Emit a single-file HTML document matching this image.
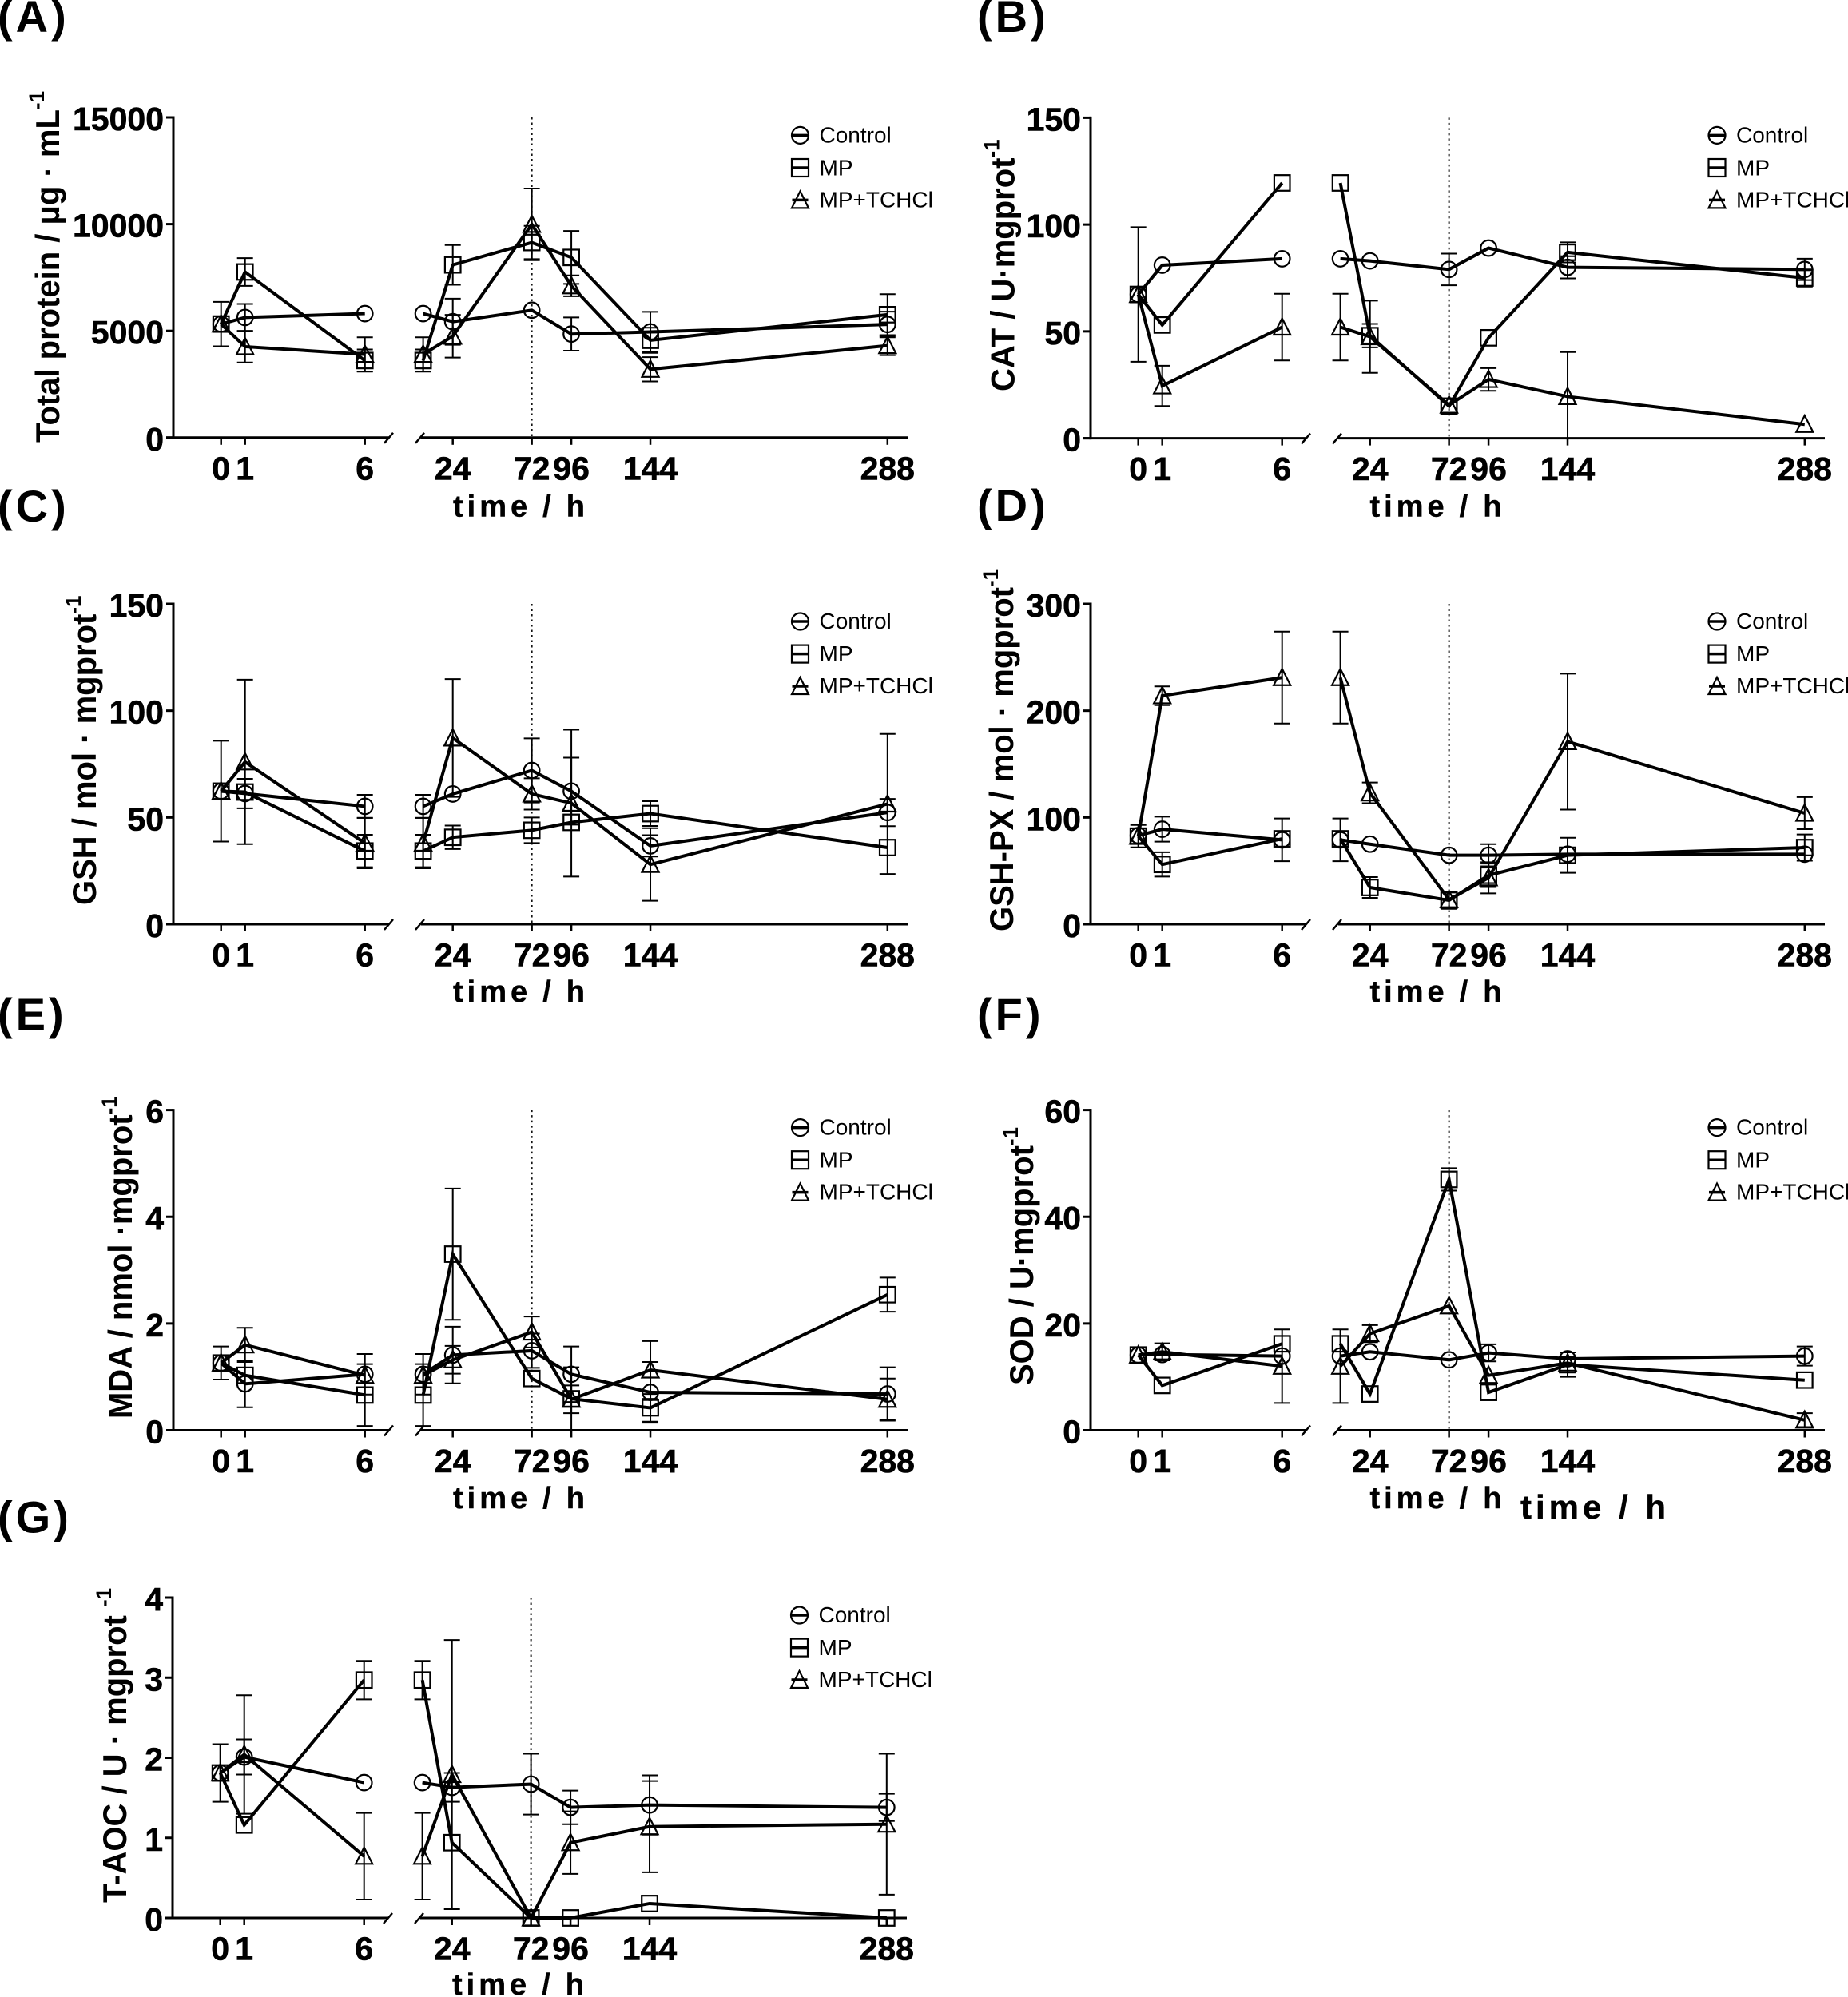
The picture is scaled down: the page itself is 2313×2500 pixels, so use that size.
<!DOCTYPE html>
<html>
<head>
<meta charset="utf-8">
<title>Time-course panels</title>
<style>
html,body{margin:0;padding:0;background:#fff;}
svg{display:block;font-family:"Liberation Sans",sans-serif;}
.pl{font-weight:700;font-size:56px;letter-spacing:4px;fill:#000;}
.yt{font-weight:700;font-size:40px;fill:#000;}
.sup{font-size:26px;}
.xt{font-weight:700;font-size:38px;letter-spacing:5px;word-spacing:-1.5px;text-anchor:middle;fill:#000;stroke:#000;stroke-width:.4;}
.lg{font-size:28px;fill:#000;}
.tick{font-weight:700;font-size:41px;fill:#000;stroke:#000;stroke-width:.6;}
.ls{fill:none;stroke:#000;stroke-width:2.2;}
.ll{stroke:#000;stroke-width:3.5;}
</style>
</head>
<body>
<svg id="figure" xmlns="http://www.w3.org/2000/svg" width="2313" height="2500" viewBox="0 0 2313 2500">
<rect width="2313" height="2500" fill="#fff"/>
<defs>
<g id="lc"><circle cx="0" cy="0" r="10.5" class="ls"/><line x1="-10" x2="10" y1="0" y2="0" class="ll"/></g>
<g id="ls"><rect x="-10.5" y="-11" width="21" height="22" class="ls"/><line x1="-10" x2="10" y1="0" y2="0" class="ll"/></g>
<g id="lt"><path d="M0,-11 L10.5,10 L-10.5,10 Z" class="ls"/><line x1="-10" x2="10" y1="0" y2="0" class="ll"/></g>
</defs>

<text class="pl" x="-3" y="40">(A)</text>
<text class="pl" x="1223" y="40">(B)</text>
<text class="pl" x="-3" y="653">(C)</text>
<text class="pl" x="1223" y="652">(D)</text>
<text class="pl" x="-3" y="1289">(E)</text>
<text class="pl" x="1223" y="1289">(F)</text>
<text class="pl" x="-3" y="1918.5">(G)</text>

<text class="yt" transform="translate(74,554) rotate(-90) scale(1,1.05)">Total protein / μg · mL<tspan class="sup" dy="-18">-1</tspan></text>
<text class="yt" transform="translate(1269.5,490) rotate(-90) scale(1,1.05)">CAT / U·mgprot<tspan class="sup" dy="-18">-1</tspan></text>
<text class="yt" transform="translate(120,1133) rotate(-90) scale(1,1.05)">GSH / mol · mgprot<tspan class="sup" dy="-18">-1</tspan></text>
<text class="yt" transform="translate(1268,1166) rotate(-90) scale(1,1.05)">GSH-PX / mol · mgprot<tspan class="sup" dy="-18">-1</tspan></text>
<text class="yt" transform="translate(165,1776) rotate(-90) scale(1,1.05)">MDA / nmol ·mgprot<tspan class="sup" dy="-18">-1</tspan></text>
<text class="yt" transform="translate(1293,1734) rotate(-90) scale(1,1.05)">SOD / U·mgprot<tspan class="sup" dy="-18">-1</tspan></text>
<text class="yt" transform="translate(158,2382) rotate(-90) scale(1,1.05)">T-AOC / U · mgprot <tspan class="sup" dy="-18">-1</tspan></text>

<text class="xt" x="652" y="646.5">time / h</text>
<text class="xt" x="1799.5" y="646.5">time / h</text>
<text class="xt" x="652" y="1254">time / h</text>
<text class="xt" x="1799.5" y="1254">time / h</text>
<text class="xt" x="652" y="1888">time / h</text>
<text class="xt" x="1799.5" y="1888">time / h</text>
<text class="xt" x="1996.5" y="1901" style="font-size:42px;letter-spacing:5px;word-spacing:0;">time / h</text>
<text class="xt" x="651" y="2497">time / h</text>

<g transform="translate(1001.5,147.4)">
<use href="#lc" y="22"/><text class="lg" x="24" y="31">Control</text>
<use href="#ls" y="62.6"/><text class="lg" x="24" y="72">MP</text>
<use href="#lt" y="103"/><text class="lg" x="24" y="112">MP+TCHCl</text>
</g>
<g transform="translate(2149,147.4)">
<use href="#lc" y="22"/><text class="lg" x="24" y="31">Control</text>
<use href="#ls" y="62.6"/><text class="lg" x="24" y="72">MP</text>
<use href="#lt" y="103"/><text class="lg" x="24" y="112">MP+TCHCl</text>
</g>
<g transform="translate(1001.5,756)">
<use href="#lc" y="22"/><text class="lg" x="24" y="31">Control</text>
<use href="#ls" y="62.6"/><text class="lg" x="24" y="72">MP</text>
<use href="#lt" y="103"/><text class="lg" x="24" y="112">MP+TCHCl</text>
</g>
<g transform="translate(2149,756)">
<use href="#lc" y="22"/><text class="lg" x="24" y="31">Control</text>
<use href="#ls" y="62.6"/><text class="lg" x="24" y="72">MP</text>
<use href="#lt" y="103"/><text class="lg" x="24" y="112">MP+TCHCl</text>
</g>
<g transform="translate(1001.5,1389.6)">
<use href="#lc" y="22"/><text class="lg" x="24" y="31">Control</text>
<use href="#ls" y="62.6"/><text class="lg" x="24" y="72">MP</text>
<use href="#lt" y="103"/><text class="lg" x="24" y="112">MP+TCHCl</text>
</g>
<g transform="translate(2149,1389.6)">
<use href="#lc" y="22"/><text class="lg" x="24" y="31">Control</text>
<use href="#ls" y="62.6"/><text class="lg" x="24" y="72">MP</text>
<use href="#lt" y="103"/><text class="lg" x="24" y="112">MP+TCHCl</text>
</g>
<g transform="translate(1000.5,2000)">
<use href="#lc" y="22"/><text class="lg" x="24" y="31">Control</text>
<use href="#ls" y="62.6"/><text class="lg" x="24" y="72">MP</text>
<use href="#lt" y="103"/><text class="lg" x="24" y="112">MP+TCHCl</text>
</g>
</svg>

<script>
// shared categories
const hours = [0, 1, 6, 24, 72, 96, 144, 288];
const hourLabels = ['0', '1', '6', '24', '72', '96', '144', '288'];

// panel A: total protein
const aTicks = [0, 5000, 10000, 15000];
const aControl = [5320, 5630, 5810, 5430, 5970, 4850, 4950, 5300];
const aControlErr = [0, 630, 0, 1080, 0, 780, 940, 600];
const aMp = [5320, 7760, 3610, 8090, 9140, 8440, 4560, 5760];
const aMpErr = [0, 650, 520, 930, 780, 1240, 590, 960];
const aTc = [5320, 4260, 3900, 4750, 9990, 7110, 3200, 4310];
const aTcErr = [1040, 740, 800, 1000, 1680, 490, 570, 450];

// panel B: CAT
const bTicks = [0, 50, 100, 150];
const bControl = [67.3, 81, 84, 83, 79, 89, 80, 79];
const bControlErr = [31.5, 0, 0, 0, 7.4, 0, 5.2, 5];
const bMp = [67.3, 53, 119.5, 48, 15, 47, 87, 75];
const bMpErr = [0, 0, 0, 5.5, 0, 0, 4.7, 4];
const bTc = [67.3, 24.5, 52, 47.5, 15.5, 27.5, 19.5, 6.5];
const bTcErr = [0, 9.4, 15.6, 16.9, 0, 5.3, 20.8, 0];

// panel C: GSH
const cTicks = [0, 50, 100, 150];
const cControl = [62.3, 61.2, 55.2, 61, 72, 62.3, 36.7, 52.3];
const cControlErr = [0, 6.9, 5.4, 0, 15, 15.7, 5, 6.4];
const cMp = [62.3, 61.9, 34.3, 40.7, 44, 47.7, 51.8, 35.9];
const cMpErr = [0, 0, 7.6, 5.5, 6, 0, 5.8, 0];
const cTc = [62.3, 76, 38, 87.2, 61, 56.7, 28, 56.3];
const cTcErr = [23.6, 38.5, 11.8, 27.6, 7.3, 34.4, 17, 32.8];

// panel D: GSH-PX
const dTicks = [0, 100, 200, 300];
const dControl = [83, 89, 79, 75, 64.6, 64.6, 65.6, 65.6];
const dControlErr = [0, 11.7, 20, 0, 0, 10.4, 0, 0];
const dMp = [82.5, 56, 80, 34.4, 22.4, 45.8, 64.6, 71.8];
const dMpErr = [0, 11.4, 0, 9.7, 8, 11, 16.4, 12.3];
const dTc = [82.5, 214, 231, 123, 23, 43.5, 171, 104];
const dTcErr = [10.5, 8.8, 43, 9.7, 0, 14.6, 63.6, 15];

// panel E: MDA
const eTicks = [0, 2, 4, 6];
const eControl = [1.26, 0.87, 1.05, 1.41, 1.49, 1.05, 0.71, 0.68];
const eControlErr = [0, 0.44, 0.38, 0.53, 0.32, 0.52, 0.57, 0.5];
const eMp = [1.26, 1.03, 0.66, 3.3, 0.97, 0.59, 0.42, 2.54];
const eMpErr = [0, 0, 0.58, 1.23, 0, 0.59, 0.26, 0.32];
const eTc = [1.26, 1.6, 1.03, 1.32, 1.84, 0.58, 1.13, 0.58];
const eTcErr = [0.31, 0.32, 0, 0.26, 0.29, 0.26, 0.54, 0.39];

// panel F: SOD
const fTicks = [0, 20, 40, 60];
const fControl = [14.1, 14.2, 13.9, 14.7, 13.2, 14.5, 13.4, 13.9];
const fControlErr = [0, 0, 0, 0, 0, 1.6, 0, 1.8];
const fMp = [14.1, 8.4, 16.2, 6.8, 47, 7.1, 12.3, 9.4];
const fMpErr = [0, 0, 0, 0, 2.1, 0, 2.3, 0];
const fTc = [14.1, 14.7, 12, 18.1, 23.3, 10.3, 12.6, 1.9];
const fTcErr = [0, 1.6, 6.9, 1.6, 0, 0, 0, 1.3];

// panel G: T-AOC
const gTicks = [0, 1, 2, 3, 4];
const gControl = [1.81, 2.01, 1.69, 1.63, 1.67, 1.38, 1.41, 1.38];
const gControlErr = [0, 0.22, 0, 0.18, 0.38, 0.21, 0.37, 0.17];
const gMp = [1.81, 1.16, 2.97, 0.94, 0, 0, 0.18, 0];
const gMpErr = [0, 0, 0.24, 0, 0, 0, 0, 0];
const gTc = [1.81, 2.04, 0.77, 1.79, 0, 0.94, 1.14, 1.17];
const gTcErr = [0.36, 0.74, 0.54, 1.68, 0, 0.39, 0.57, 0.88];

const svgRoot = document.getElementById('figure');
const NS = 'http://www.w3.org/2000/svg';

function make(parent, tag, props, text) {
  const el = document.createElementNS(NS, tag);
  for (const k in props) el.setAttribute(k, props[k]);
  if (text !== undefined) el.textContent = text;
  parent.appendChild(el);
  return el;
}

function xBefore(t, dx) { return 276.7 + dx + t * 30; }
function xAfter(t, dx) { return 566.7 + dx + (t - 24) * 2.061; }

function drawMarker(parent, kind, x, y, seriesName) {
  let m;
  if (kind === 'circle') {
    m = make(parent, 'circle', {cx: x, cy: y, r: 9.8, fill: 'none', stroke: '#000', 'stroke-width': 2.2});
  } else if (kind === 'square') {
    m = make(parent, 'rect', {x: x - 9.8, y: y - 9.8, width: 19.6, height: 19.6, fill: 'none', stroke: '#000', 'stroke-width': 2.2});
  } else {
    m = make(parent, 'path', {d: 'M' + x + ',' + (y - 11) + ' L' + (x + 10.5) + ',' + (y + 9.5) + ' L' + (x - 10.5) + ',' + (y + 9.5) + ' Z', fill: 'none', stroke: '#000', 'stroke-width': 2.2});
  }
  
  
}

function drawErr(parent, x, yHi, yLo, seriesName) {
  const d = 'M' + x + ',' + yHi + ' V' + yLo + ' M' + (x - 10) + ',' + yHi + ' H' + (x + 10) + ' M' + (x - 10) + ',' + yLo + ' H' + (x + 10);
  const e = make(parent, 'path', {d: d, fill: 'none', stroke: '#000', 'stroke-width': 2});
  
  
}

function drawPanel(id, dx, top, bottom, ticks, series) {
  const g = make(svgRoot, 'g', {});
  
  
  const maxV = ticks[ticks.length - 1];
  const yScale = v => bottom - (v / maxV) * (bottom - top);
  const axisX = 217 + dx;

  // axes
  const yAxis = make(g, 'line', {x1: axisX, x2: axisX, y1: top - 1.5, y2: bottom + 1.5, stroke: '#000', 'stroke-width': 3});
  
  
  const xLeft = make(g, 'line', {x1: 208 + dx, x2: 487 + dx, y1: bottom, y2: bottom, stroke: '#000', 'stroke-width': 3});
  
  
  const xRight = make(g, 'line', {x1: 527 + dx, x2: 1136 + dx, y1: bottom, y2: bottom, stroke: '#000', 'stroke-width': 3});
  
  
  const brk1 = make(g, 'line', {x1: 481 + dx, x2: 492 + dx, y1: bottom + 7, y2: bottom - 6, stroke: '#000', 'stroke-width': 2.5});
  
  
  const brk2 = make(g, 'line', {x1: 520 + dx, x2: 531 + dx, y1: bottom + 7, y2: bottom - 6, stroke: '#000', 'stroke-width': 2.5});
  
  

  // dotted reference at 72 h
  const ref = make(g, 'line', {x1: xAfter(72, dx), x2: xAfter(72, dx), y1: top, y2: bottom, stroke: '#111', 'stroke-width': 2, 'stroke-dasharray': '2.5 4'});
  
  

  // y ticks
  ticks.forEach(v => {
    const y = yScale(v);
    const t = make(g, 'line', {x1: axisX - 9, x2: axisX, y1: y, y2: y, stroke: '#000', 'stroke-width': 3});
    
    
    const l = make(g, 'text', {x: axisX - 12, y: y + 16, 'text-anchor': 'end', class: 'tick'}, String(v));
    
    
  });

  // x ticks
  hours.forEach((h, i) => {
    const x = h <= 6 ? xBefore(h, dx) : xAfter(h, dx);
    const t = make(g, 'line', {x1: x, x2: x, y1: bottom, y2: bottom + 9, stroke: '#000', 'stroke-width': 2.5});
    
    
    const l = make(g, 'text', {x: x, y: bottom + 52.5, 'text-anchor': 'middle', class: 'tick'}, hourLabels[i]);
    
    
  });

  // series
  series.forEach(s => {
    const sg = make(g, 'g', {});
    
    
    const early = [];
    const late = [];
    hours.forEach((h, i) => {
      if (h <= 6) early.push({x: xBefore(h, dx), i: i});
      if (h >= 6) late.push({x: xAfter(h, dx), i: i});
    });
    [early, late].forEach(seg => {
      seg.forEach(p => {
        const v = s.values[p.i];
        const e = s.errs[p.i];
        if (e > 0) drawErr(sg, p.x, yScale(v + e), yScale(Math.max(v - e, 0)), s.name);
      });
      seg.forEach(p => drawMarker(sg, s.kind, p.x, yScale(s.values[p.i]), s.name));
      const pts = seg.map(p => p.x + ',' + yScale(s.values[p.i])).join(' ');
      const line = make(sg, 'polyline', {points: pts, fill: 'none', stroke: '#000', 'stroke-width': 4, 'stroke-linejoin': 'miter'});
      
      
    });
  });
}

function seriesSet(c, cE, m, mE, t, tE) {
  return [
    {name: 'control', kind: 'circle', values: c, errs: cE},
    {name: 'mp', kind: 'square', values: m, errs: mE},
    {name: 'mp-tchcl', kind: 'triangle', values: t, errs: tE}
  ];
}

drawPanel('a', 0, 147, 547.8, aTicks, seriesSet(aControl, aControlErr, aMp, aMpErr, aTc, aTcErr));
drawPanel('b', 1148, 147.4, 548.6, bTicks, seriesSet(bControl, bControlErr, bMp, bMpErr, bTc, bTcErr));
drawPanel('c', 0, 756, 1157, cTicks, seriesSet(cControl, cControlErr, cMp, cMpErr, cTc, cTcErr));
drawPanel('d', 1148, 756, 1157, dTicks, seriesSet(dControl, dControlErr, dMp, dMpErr, dTc, dTcErr));
drawPanel('e', 0, 1389.6, 1790.5, eTicks, seriesSet(eControl, eControlErr, eMp, eMpErr, eTc, eTcErr));
drawPanel('f', 1148, 1389.6, 1790.5, fTicks, seriesSet(fControl, fControlErr, fMp, fMpErr, fTc, fTcErr));
drawPanel('g', -1, 2000, 2401, gTicks, seriesSet(gControl, gControlErr, gMp, gMpErr, gTc, gTcErr));
</script>
</body>
</html>
